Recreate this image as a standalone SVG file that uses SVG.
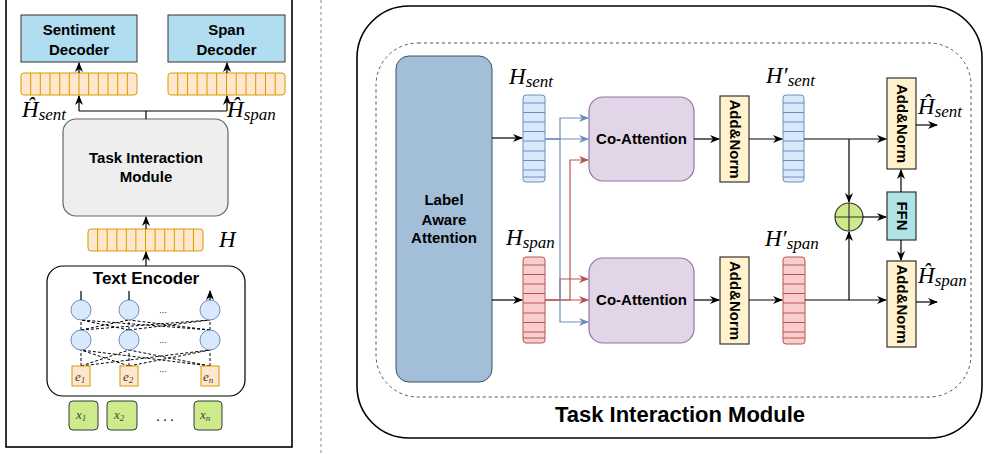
<svg xmlns="http://www.w3.org/2000/svg" width="984" height="454" viewBox="0 0 984 454">
<defs>
<marker id="ab" markerWidth="10" markerHeight="10" refX="9" refY="5" orient="auto" markerUnits="userSpaceOnUse"><path d="M0,1 L10,5 L0,9 L3,5 z" fill="#000"/></marker>
<marker id="abl" markerWidth="10" markerHeight="10" refX="9" refY="5" orient="auto" markerUnits="userSpaceOnUse"><path d="M0,1 L10,5 L0,9 L3,5 z" fill="#6c8ebf"/></marker>
<marker id="ar" markerWidth="10" markerHeight="10" refX="9" refY="5" orient="auto" markerUnits="userSpaceOnUse"><path d="M0,1 L10,5 L0,9 L3,5 z" fill="#b85450"/></marker>
</defs>
<style>
.b{font-family:"Liberation Sans",Arial,sans-serif;font-weight:bold;fill:#000;text-anchor:middle}
.m{font-family:"Liberation Serif","Times New Roman",serif;font-style:italic;fill:#000}
.mg{font-family:"Liberation Serif","Times New Roman",serif;font-style:italic;fill:#444}
.ln{fill:none;stroke:#000;stroke-width:1.2}
.bl{fill:none;stroke:#6c8ebf;stroke-width:1.2}
.rd{fill:none;stroke:#b85450;stroke-width:1.2}
.dsh{fill:none;stroke:#000;stroke-width:1;stroke-dasharray:3 2}
.os{fill:#ffe6cc;stroke:#d79b00;stroke-width:1}
.bs{fill:#dae8fc;stroke:#6c8ebf;stroke-width:1}
.rs{fill:#f8cecc;stroke:#b85450;stroke-width:1}
.cir{fill:#dae8fc;stroke:#6c8ebf;stroke-width:1}
.an{fill:#fff2cc;stroke:#333;stroke-width:1.2}
.ca{fill:#e1d5e7;stroke:#9673a6;stroke-width:1.2}
.xb{fill:#cdeb8b;stroke:#36393d;stroke-width:1}
</style>
<rect width="984" height="454" fill="#fff"/>

<!-- Left panel -->
<g id="left-panel">
<rect x="6" y="-5" width="286" height="452" fill="none" stroke="#000" stroke-width="1.6"/>
</g>
<line x1="321" y1="0" x2="321" y2="454" stroke="#888" stroke-width="1" stroke-dasharray="3 3"/>

<g id="sentiment-decoder">
<rect x="21" y="15" width="116" height="47" fill="#b1ddf0" stroke="#333" stroke-width="1"/>
<text class="b" x="79" y="35" font-size="15">Sentiment</text>
<text class="b" x="79" y="55" font-size="15">Decoder</text>
</g>
<g id="span-decoder">
<rect x="168" y="15" width="117" height="47" fill="#b1ddf0" stroke="#333" stroke-width="1"/>
<text class="b" x="226.5" y="35" font-size="15">Span</text>
<text class="b" x="226.5" y="55" font-size="15">Decoder</text>
</g>
<g id="hsent-hat-strip">
<rect class="os" x="21" y="73" width="116" height="22" rx="3"/>
<path d="M30.7,73V95M40.3,73V95M50,73V95M59.7,73V95M69.3,73V95M79,73V95M88.7,73V95M98.3,73V95M108,73V95M117.7,73V95M127.3,73V95" stroke="#d79b00" stroke-width="1"/>
<text class="m" x="22" y="117" font-size="23">Ĥ<tspan font-size="17" dy="3">sent</tspan></text>
</g>
<g id="hspan-hat-strip">
<rect class="os" x="168" y="73" width="117" height="22" rx="3"/>
<path d="M177.7,73V95M187.5,73V95M197.2,73V95M207,73V95M216.7,73V95M226.5,73V95M236.2,73V95M246,73V95M255.7,73V95M265.5,73V95M275.2,73V95" stroke="#d79b00" stroke-width="1"/>
<text class="m" x="227" y="117" font-size="23">Ĥ<tspan font-size="17" dy="3">span</tspan></text>
</g>
<g id="task-interaction-module-small">
<rect x="63" y="119" width="165" height="97" rx="13" fill="#eeeeee" stroke="#666" stroke-width="1.2"/>
<text class="b" x="146" y="163" font-size="15">Task Interaction</text>
<text class="b" x="146" y="182" font-size="15">Module</text>
</g>
<g id="h-strip">
<rect class="os" x="88" y="229" width="115" height="22" rx="3"/>
<path d="M97.6,229V251M107.2,229V251M116.8,229V251M126.3,229V251M135.9,229V251M145.5,229V251M155.1,229V251M164.7,229V251M174.3,229V251M183.8,229V251M193.4,229V251" stroke="#d79b00" stroke-width="1"/>
<text class="m" x="219" y="247" font-size="23">H</text>
</g>
<g id="text-encoder">
<rect x="47" y="266" width="198" height="130" rx="16" fill="#fff" stroke="#000" stroke-width="1.2"/>
<text class="b" x="146" y="284" font-size="17">Text Encoder</text>
<g class="dsh">
<path d="M81,366L81,350M81,366L129,350M81,366L210,350M129,366L81,350M129,366L129,350M129,366L210,350M210,366L81,350M210,366L129,350M210,366L210,350"/>
<path d="M81,330L81,320M81,330L129,320M81,330L210,320M129,330L81,320M129,330L129,320M129,330L210,320M210,330L81,320M210,330L129,320M210,330L210,320"/>
</g>
<circle class="cir" cx="81" cy="310" r="10"/><circle class="cir" cx="129" cy="310" r="10"/><circle class="cir" cx="210" cy="310" r="10"/>
<circle class="cir" cx="81" cy="340" r="10"/><circle class="cir" cx="129" cy="340" r="10"/><circle class="cir" cx="210" cy="340" r="10"/>
<path class="ln" d="M81,300V291M129,300V291M210,300V291" marker-end="url(#ab)"/>
<text x="163" y="313" font-family="Liberation Sans,sans-serif" font-size="9" text-anchor="middle" fill="#333">...</text>
<text x="163" y="343" font-family="Liberation Sans,sans-serif" font-size="9" text-anchor="middle" fill="#333">...</text>
<text x="163" y="372" font-family="Liberation Sans,sans-serif" font-size="9" text-anchor="middle" fill="#333">...</text>
<rect class="os" x="72" y="366" width="18" height="20"/>
<rect class="os" x="120" y="366" width="18" height="20"/>
<rect class="os" x="201" y="366" width="18" height="20"/>
<text class="mg" x="75" y="381" font-size="13">e<tspan font-size="9" dy="2">1</tspan></text>
<text class="mg" x="123" y="381" font-size="13">e<tspan font-size="9" dy="2">2</tspan></text>
<text class="mg" x="203" y="381" font-size="13">e<tspan font-size="9" dy="2">n</tspan></text>
</g>
<g id="x1"><rect class="xb" x="69" y="401" width="29" height="29" rx="4"/><text class="mg" x="76" y="419" font-size="13">x<tspan font-size="9" dy="2">1</tspan></text></g>
<g id="x2"><rect class="xb" x="107" y="401" width="30" height="29" rx="4"/><text class="mg" x="114" y="419" font-size="13">x<tspan font-size="9" dy="2">2</tspan></text></g>
<text x="165" y="421" font-family="Liberation Serif,serif" font-size="14" text-anchor="middle">. . .</text>
<g id="xn"><rect class="xb" x="194" y="401" width="28" height="29" rx="4"/><text class="mg" x="200" y="419" font-size="13">x<tspan font-size="9" dy="2">n</tspan></text></g>

<g id="left-connectors">
<path class="ln" d="M146,266V252" marker-end="url(#ab)"/>
<path class="ln" d="M146,229V217" marker-end="url(#ab)"/>
<path class="ln" d="M146,119V111M79,111H227"/>
<path class="ln" d="M79,111V96" marker-end="url(#ab)"/>
<path class="ln" d="M227,111V96" marker-end="url(#ab)"/>
<path class="ln" d="M79,73V63" marker-end="url(#ab)"/>
<path class="ln" d="M227,73V63" marker-end="url(#ab)"/>
</g>

<!-- Right panel -->
<g id="right-panel">
<rect x="357" y="6" width="625" height="432" rx="52" fill="none" stroke="#000" stroke-width="1.6"/>
<rect x="376" y="43" width="595" height="354" rx="42" fill="none" stroke="#555" stroke-width="1" stroke-dasharray="3 3"/>
<text class="b" x="680" y="422" font-size="22">Task Interaction Module</text>
</g>
<g id="label-aware-attention">
<rect x="396" y="56" width="96" height="326" rx="13" fill="#a3bed8" stroke="#3d5266" stroke-width="1"/>
<text class="b" x="444" y="205" font-size="15">Label</text>
<text class="b" x="444" y="225" font-size="15">Aware</text>
<text class="b" x="444" y="243" font-size="15">Attention</text>
</g>
<g id="h-sent">
<rect class="bs" x="523" y="95" width="22" height="87" rx="3"/>
<path d="M523,103H545M523,112.5H545M523,122H545M523,131.5H545M523,141H545M523,151H545M523,160.5H545M523,170H545M523,177H545" stroke="#6c8ebf" stroke-width="1"/>
<text class="m" x="509" y="84" font-size="23">H<tspan font-size="17" dy="3">sent</tspan></text>
</g>
<g id="h-span">
<rect class="rs" x="523" y="257" width="22" height="86" rx="3"/>
<path d="M523,265H545M523,274.5H545M523,284H545M523,293.5H545M523,303H545M523,313H545M523,322.5H545M523,332H545M523,338H545" stroke="#b85450" stroke-width="1"/>
<text class="m" x="506" y="245" font-size="23">H<tspan font-size="17" dy="3">span</tspan></text>
</g>
<g id="co-attention-sent">
<rect class="ca" x="589" y="97" width="105" height="84" rx="14"/>
<text class="b" x="641.5" y="144" font-size="15">Co-Attention</text>
</g>
<g id="co-attention-span">
<rect class="ca" x="589" y="258" width="105" height="85" rx="14"/>
<text class="b" x="641.5" y="305" font-size="15">Co-Attention</text>
</g>
<g id="add-norm-sent">
<rect class="an" x="720" y="96" width="29" height="86"/>
<text class="b" transform="translate(734.5,139) rotate(90)" y="5" font-size="15">Add&amp;Norm</text>
</g>
<g id="add-norm-span">
<rect class="an" x="720" y="257" width="29" height="87"/>
<text class="b" transform="translate(734.5,300.5) rotate(90)" y="5" font-size="15">Add&amp;Norm</text>
</g>
<g id="h-sent-prime">
<rect class="bs" x="783" y="95" width="21" height="87" rx="3"/>
<path d="M783,103H804M783,112.5H804M783,122H804M783,131.5H804M783,141H804M783,151H804M783,160.5H804M783,170H804M783,177H804" stroke="#6c8ebf" stroke-width="1"/>
<text class="m" x="766" y="83" font-size="23">H′<tspan font-size="17" dy="3">sent</tspan></text>
</g>
<g id="h-span-prime">
<rect class="rs" x="783" y="257" width="22" height="87" rx="3"/>
<path d="M783,265H805M783,274.5H805M783,284H805M783,293.5H805M783,303H805M783,313H805M783,322.5H805M783,332H805M783,338H805" stroke="#b85450" stroke-width="1"/>
<text class="m" x="765" y="246" font-size="23">H′<tspan font-size="17" dy="3">span</tspan></text>
</g>
<g id="add">
<circle cx="849" cy="217" r="14" fill="#cdeb8b" stroke="#333" stroke-width="1.2"/>
<path d="M835,217H863M849,203V231" stroke="#333" stroke-width="1.2"/>
</g>
<g id="ffn">
<rect x="887" y="192" width="29" height="48" fill="#b0e3e6" stroke="#333" stroke-width="1.2"/>
<text class="b" transform="translate(901.5,216) rotate(90)" y="5" font-size="15">FFN</text>
</g>
<g id="add-norm-out-sent">
<rect class="an" x="887" y="78" width="29" height="91"/>
<text class="b" transform="translate(901.5,123.5) rotate(90)" y="5" font-size="15">Add&amp;Norm</text>
<text class="m" x="918" y="114" font-size="23">Ĥ<tspan font-size="17" dy="3">sent</tspan></text>
</g>
<g id="add-norm-out-span">
<rect class="an" x="887" y="261" width="29" height="86"/>
<text class="b" transform="translate(901.5,304) rotate(90)" y="5" font-size="15">Add&amp;Norm</text>
<text class="m" x="918" y="283" font-size="23">Ĥ<tspan font-size="17" dy="3">span</tspan></text>
</g>

<g id="right-connectors">
<path class="ln" d="M492,138H522" marker-end="url(#ab)"/>
<path class="ln" d="M492,300H522" marker-end="url(#ab)"/>
<path class="rd" d="M545,300H560V279H588" marker-end="url(#ar)"/>
<path class="rd" d="M545,300H570V160H588" marker-end="url(#ar)"/>
<path class="rd" d="M545,300H588" marker-end="url(#ar)"/>
<path class="bl" d="M545,139H588" marker-end="url(#abl)"/>
<path class="bl" d="M545,139H560V118H588" marker-end="url(#abl)"/>
<path class="bl" d="M545,139H560V322H588" marker-end="url(#abl)"/>
<path class="ln" d="M694,139H719" marker-end="url(#ab)"/>
<path class="ln" d="M694,300H719" marker-end="url(#ab)"/>
<path class="ln" d="M749,139H782" marker-end="url(#ab)"/>
<path class="ln" d="M749,300H782" marker-end="url(#ab)"/>
<path class="ln" d="M804,139H886" marker-end="url(#ab)"/>
<path class="ln" d="M805,300H886" marker-end="url(#ab)"/>
<path class="ln" d="M849,139V202" marker-end="url(#ab)"/>
<path class="ln" d="M849,300V232" marker-end="url(#ab)"/>
<path class="ln" d="M863,217H886" marker-end="url(#ab)"/>
<path class="ln" d="M901,192V170" marker-end="url(#ab)"/>
<path class="ln" d="M901,240V260" marker-end="url(#ab)"/>
<path class="ln" d="M916,125H937" marker-end="url(#ab)"/>
<path class="ln" d="M916,302H937" marker-end="url(#ab)"/>
</g>
</svg>
